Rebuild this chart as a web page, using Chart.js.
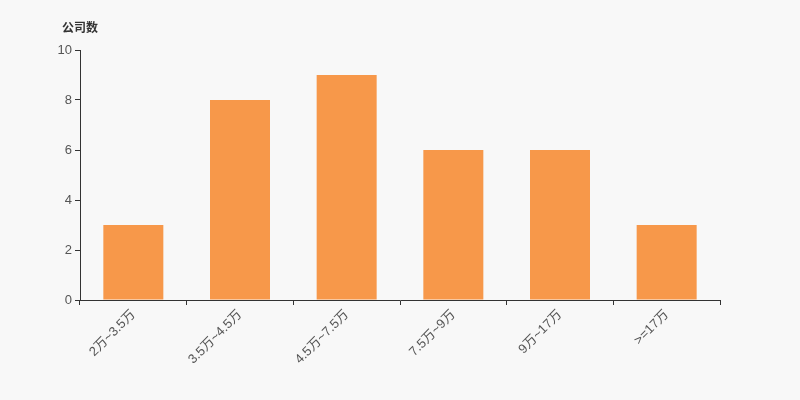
<!DOCTYPE html>
<html>
<head>
<meta charset="utf-8">
<script src="https://cdn.jsdelivr.net/npm/chart.js@4.4.1/dist/chart.umd.min.js"></script>
<style>
  html, body { margin: 0; padding: 0; background: #f8f8f8; }
  #wrap { width: 800px; height: 400px; }
</style>
</head>
<body>
<div id="wrap"><canvas id="chart" width="800" height="400"></canvas></div>
<script>
// salary ranges vs. number of companies
const categories = ['2万~3.5万', '3.5万~4.5万', '4.5万~7.5万', '7.5万~9万', '9万~17万', '>=17万'];
const companyCounts = [3, 8, 9, 6, 6, 3];
const yTicks = [0, 2, 4, 6, 8, 10];
const yTitle = '公司数';

const FONT = "'Liberation Sans', 'Noto Sans CJK SC', sans-serif";
const AXIS = '#333333';

// small plugin that writes the y axis caption above the axis
const captionPlugin = {
  id: 'caption',
  afterDraw(chart) {
    const ctx = chart.ctx;
    const y = chart.scales.y;
    ctx.save();
    ctx.font = 'bold 12px ' + FONT;
    ctx.fillStyle = AXIS;
    ctx.textAlign = 'left';
    ctx.textBaseline = 'middle';
    ctx.fillText(yTitle, y.right - 18, y.top - 21);
    ctx.restore();
  }
};

new Chart(document.getElementById('chart').getContext('2d'), {
  type: 'bar',
  data: {
    labels: categories,
    datasets: [{
      label: yTitle,
      data: companyCounts,
      backgroundColor: '#f7984a',
      borderWidth: 0,
      barPercentage: 0.5625,
      categoryPercentage: 1
    }]
  },
  options: {
    responsive: false,
    animation: false,
    layout: { padding: { top: 50, right: 80, left: 0, bottom: 0 } },
    plugins: {
      legend: { display: false },
      tooltip: { enabled: false }
    },
    scales: {
      x: {
        afterFit: s => { s.height = 100; },
        grid: {
          display: true,
          offset: true,
          drawOnChartArea: false,
          drawTicks: true,
          tickLength: 5,
          color: AXIS
        },
        border: { display: true, color: AXIS, width: 1 },
        ticks: {
          color: '#555',
          font: { family: FONT, size: 13 },
          maxRotation: 45,
          minRotation: 45,
          autoSkip: false,
          padding: 2
        }
      },
      y: {
        min: 0,
        max: 10,
        afterFit: s => { s.width = 80; },
        afterBuildTicks: s => { s.ticks = yTicks.map(v => ({ value: v })); },
        grid: {
          display: true,
          drawOnChartArea: false,
          drawTicks: true,
          tickLength: 5,
          color: AXIS
        },
        border: { display: true, color: AXIS, width: 1 },
        ticks: {
          color: '#555',
          font: { family: FONT, size: 13 },
          padding: 3
        }
      }
    }
  },
  plugins: [captionPlugin]
});
</script>
</body>
</html>
